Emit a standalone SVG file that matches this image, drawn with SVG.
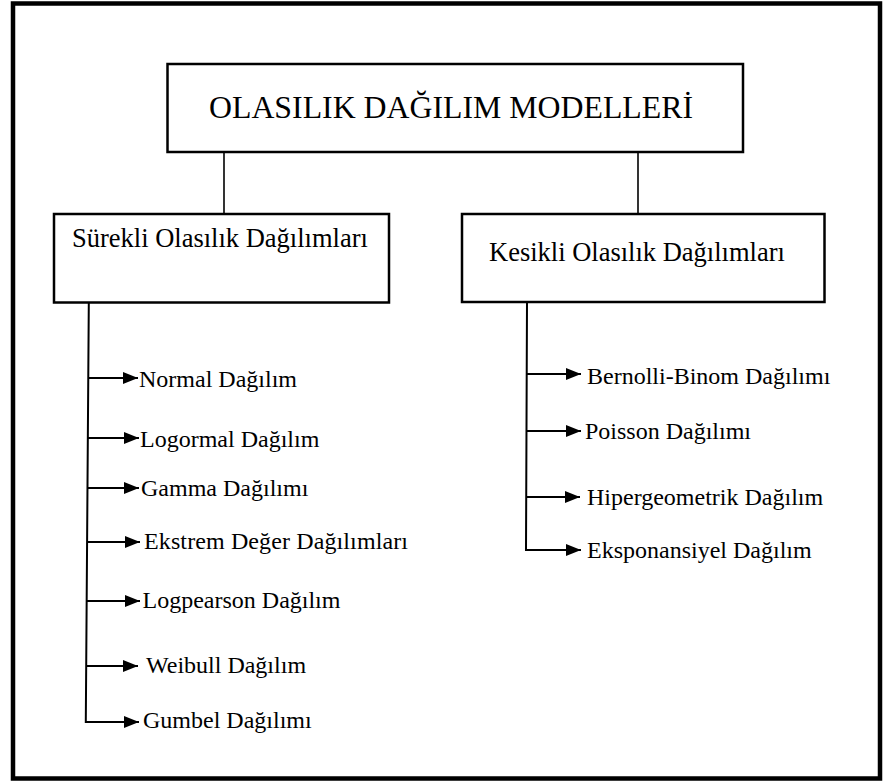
<svg xmlns="http://www.w3.org/2000/svg" width="884" height="783" viewBox="0 0 884 783">
<style>
  .frame{fill:#fff;stroke:#000;stroke-width:4.5}
  .box{fill:#fff;stroke:#000;stroke-width:2.5}
  .conn{fill:none;stroke:#000;stroke-width:1.6}
  .branch{fill:none;stroke:#000;stroke-width:2}
  .t{font-family:"Liberation Serif","Times New Roman",serif;fill:#000}
  .title{font-size:32px}
  .sub{font-size:26.5px}
  .item{font-size:24px}
</style>
<defs>
  <marker id="ah" markerUnits="userSpaceOnUse" markerWidth="15" markerHeight="12" refX="15" refY="6" orient="auto">
    <path d="M0,0 L15,6 L0,12 z" fill="#000"/>
  </marker>
</defs>
<rect class="frame" x="13" y="3.5" width="867" height="775"/>

<g id="connectors">
  <line class="conn" x1="224" y1="152" x2="224" y2="214"/>
  <line class="conn" x1="638" y1="152" x2="638" y2="214"/>
  <polyline class="branch" points="88.8,303 85.8,722 139,722" marker-end="url(#ah)"/>
  <line class="branch" x1="88.5" y1="378" x2="138" y2="378" marker-end="url(#ah)"/>
  <line class="branch" x1="88" y1="438" x2="139" y2="438" marker-end="url(#ah)"/>
  <line class="branch" x1="87.8" y1="488" x2="139" y2="488" marker-end="url(#ah)"/>
  <line class="branch" x1="87.4" y1="542" x2="140" y2="542" marker-end="url(#ah)"/>
  <line class="branch" x1="87" y1="601" x2="140" y2="601" marker-end="url(#ah)"/>
  <line class="branch" x1="86.5" y1="666" x2="138" y2="666" marker-end="url(#ah)"/>
  <polyline class="branch" points="527,302 526,550 581,550" marker-end="url(#ah)"/>
  <line class="branch" x1="527" y1="374" x2="581" y2="374" marker-end="url(#ah)"/>
  <line class="branch" x1="526.5" y1="431" x2="581" y2="431" marker-end="url(#ah)"/>
  <line class="branch" x1="526.5" y1="497" x2="580" y2="497" marker-end="url(#ah)"/>
</g>

<g id="root">
  <rect class="box" x="167.5" y="64" width="575.5" height="88"/>
  <text class="t title" x="209" y="118" textLength="484" lengthAdjust="spacingAndGlyphs">OLASILIK DAĞILIM MODELLERİ</text>
</g>
<g id="surekli">
  <rect class="box" x="54" y="214" width="335" height="88.5"/>
  <text class="t sub" x="72" y="247">Sürekli Olasılık Dağılımları</text>
</g>
<g id="kesikli">
  <rect class="box" x="462" y="214" width="362.5" height="88"/>
  <text class="t sub" x="489" y="261">Kesikli Olasılık Dağılımları</text>
</g>

<g id="normal"><text class="t item" x="139" y="386.5">Normal Dağılım</text></g>
<g id="logormal"><text class="t item" x="140" y="447">Logormal Dağılım</text></g>
<g id="gamma"><text class="t item" x="141" y="496">Gamma Dağılımı</text></g>
<g id="ekstrem"><text class="t item" x="144" y="549" textLength="264">Ekstrem Değer Dağılımları</text></g>
<g id="logpearson"><text class="t item" x="142.5" y="608">Logpearson Dağılım</text></g>
<g id="weibull"><text class="t item" x="146" y="673">Weibull Dağılım</text></g>
<g id="gumbel"><text class="t item" x="143" y="728">Gumbel Dağılımı</text></g>

<g id="bernolli"><text class="t item" x="587" y="384">Bernolli-Binom Dağılımı</text></g>
<g id="poisson"><text class="t item" x="585" y="439">Poisson Dağılımı</text></g>
<g id="hiper"><text class="t item" x="587" y="505">Hipergeometrik Dağılım</text></g>
<g id="ekspo"><text class="t item" x="587" y="558">Eksponansiyel Dağılım</text></g>
</svg>
